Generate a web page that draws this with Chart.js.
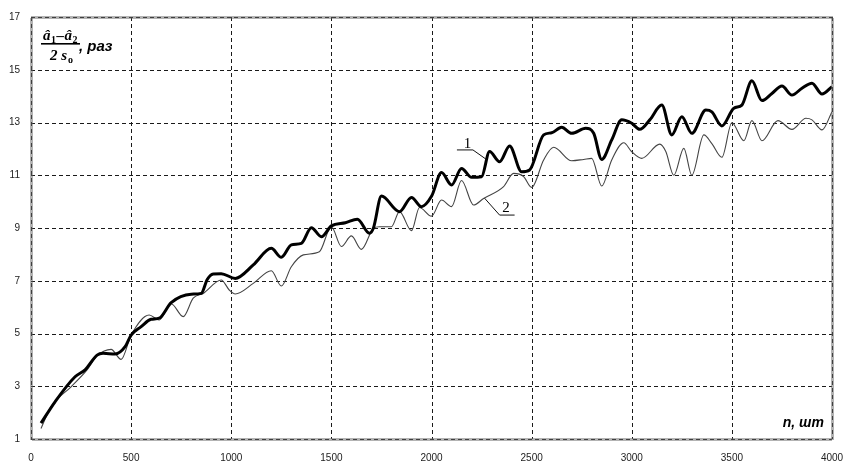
<!DOCTYPE html>
<html>
<head>
<meta charset="utf-8">
<script src="https://cdn.jsdelivr.net/npm/chart.js@4/dist/chart.umd.min.js"></script>
<style>
html, body { margin: 0; padding: 0; background: #fff; }
#wrap { width: 847px; height: 463px; }
</style>
</head>
<body>
<div id="wrap"><canvas id="chart"></canvas></div>
<script>
// curve 1 (thick)
const n1 = [50, 120, 220, 270, 330, 360, 420, 470, 500, 550,
    600, 640, 700, 800, 850, 880, 910, 950, 1020, 1110,
    1200, 1250, 1300, 1350, 1400, 1450, 1500, 1570, 1630, 1690,
    1710, 1750, 1840, 1900, 1950, 2000, 2050, 2100, 2150, 2200,
    2250, 2290, 2340, 2390, 2450, 2490, 2560, 2600, 2650, 2700,
    2770, 2810, 2850, 2900, 2950, 3000, 3040, 3090, 3150, 3200,
    3250, 3300, 3370, 3400, 3450, 3510, 3550, 3600, 3650, 3700,
    3750, 3800, 3850, 3900, 3950, 4000];
const s1 = [1.6, 2.41, 3.36, 3.62, 4.18, 4.25, 4.22, 4.5, 4.94, 5.26,
    5.54, 5.58, 6.17, 6.49, 6.52, 7.05, 7.26, 7.27, 7.09, 7.6,
    8.23, 7.89, 8.36, 8.42, 9.01, 8.67, 9.08, 9.2, 9.33, 8.8,
    9.0, 10.21, 9.62, 10.16, 9.81, 10.2, 11.1, 10.63, 11.26, 10.92,
    10.94, 11.9, 11.51, 12.11, 11.13, 11.2, 12.53, 12.61, 12.82, 12.59,
    12.78, 12.59, 11.6, 12.34, 13.1, 12.97, 12.74, 13.1, 13.66, 12.53,
    13.22, 12.59, 13.47, 13.4, 12.87, 13.54, 13.66, 14.58, 13.83, 14.1,
    14.38, 14.04, 14.3, 14.49, 14.08, 14.36];

// curve 2 (thin)
const n2 = [50, 100, 200, 280, 330, 400, 450, 500, 590, 640,
    700, 760, 810, 860, 950, 990, 1020, 1110, 1200, 1250,
    1300, 1360, 1440, 1500, 1550, 1600, 1650, 1710, 1740, 1800,
    1840, 1900, 1940, 2000, 2050, 2100, 2150, 2210, 2260, 2360,
    2410, 2460, 2500, 2560, 2610, 2700, 2760, 2800, 2850, 2900,
    2960, 3000, 3050, 3140, 3170, 3210, 3260, 3300, 3360, 3400,
    3450, 3500, 3560, 3600, 3650, 3730, 3800, 3870, 3900, 3950,
    4000];
const s2 = [1.4, 2.22, 2.98, 3.62, 4.15, 4.4, 4.02, 4.94, 5.7, 5.51,
    6.13, 5.64, 6.34, 6.52, 7.03, 6.65, 6.5, 6.9, 7.38, 6.8,
    7.53, 7.98, 8.1, 9.05, 8.3, 8.7, 8.19, 8.99, 9.05, 9.05,
    9.62, 8.9, 9.78, 9.45, 10.06, 9.81, 10.8, 9.87, 10.12, 10.57,
    11.07, 10.95, 10.54, 11.58, 12.06, 11.55, 11.6, 11.64, 10.59, 11.58,
    12.23, 11.89, 11.64, 12.18, 11.9, 11.0, 12.02, 11.0, 12.53, 12.2,
    11.68, 12.99, 12.31, 13.07, 12.31, 13.07, 12.74, 13.16, 13.1, 12.72,
    13.41];

const xTicks = [0, 500, 1000, 1500, 2000, 2500, 3000, 3500, 4000];
const yTicks = [1, 3, 5, 7, 9, 11, 13, 15, 17];

// curve labels with leader lines, in data units
const callouts = [
    { text: '1', at: [2180, 12.05], path: [[2127, 11.96], [2207, 11.96], [2274, 11.6]] },
    { text: '2', at: [2372, 9.6], path: [[2265, 10.13], [2340, 9.49], [2415, 9.49]] }
];

function toPoints(xs, ys) {
    return xs.map((x, i) => ({ x: x, y: ys[i] }));
}

// dashed grid drawn under the curves
const dashedGrid = {
    id: 'dashedGrid',
    beforeDatasetsDraw(chart) {
        const ctx = chart.ctx;
        const a = chart.chartArea;
        const xs = chart.scales.x, ys = chart.scales.y;
        ctx.save();
        ctx.strokeStyle = '#1a1a1a';
        ctx.lineWidth = 1;
        ctx.setLineDash([4, 3]);
        xTicks.forEach(v => {
            const px = Math.round(xs.getPixelForValue(v)) + 0.5;
            ctx.beginPath();
            ctx.moveTo(px, a.top);
            ctx.lineTo(px, a.bottom);
            ctx.stroke();
        });
        yTicks.forEach(v => {
            const py = Math.round(ys.getPixelForValue(v)) + 0.5;
            ctx.beginPath();
            ctx.moveTo(a.left, py);
            ctx.lineTo(a.right, py);
            ctx.stroke();
        });
        ctx.restore();
    }
};

// hatched frame, axis captions and curve labels
const decorations = {
    id: 'decorations',
    afterDatasetsDraw(chart) {
        const ctx = chart.ctx;
        const a = chart.chartArea;
        const xs = chart.scales.x, ys = chart.scales.y;
        ctx.save();

        // frame
        const l = Math.round(a.left) + 0.5, t = Math.round(a.top) + 0.5;
        const r = Math.round(a.right) + 0.5, b = Math.round(a.bottom) + 0.5;
        ctx.strokeStyle = '#666';
        ctx.lineWidth = 3;
        ctx.setLineDash([1, 1]);
        ctx.strokeRect(l, t, r - l, b - t);
        ctx.setLineDash([]);

        // leader lines + numbers
        ctx.strokeStyle = '#111';
        ctx.lineWidth = 1;
        ctx.fillStyle = '#000';
        ctx.font = '15px "Liberation Serif"';
        ctx.textAlign = 'center';
        ctx.textBaseline = 'alphabetic';
        callouts.forEach(c => {
            ctx.beginPath();
            c.path.forEach((p, i) => {
                const px = xs.getPixelForValue(p[0]), py = ys.getPixelForValue(p[1]);
                if (i === 0) ctx.moveTo(px, py); else ctx.lineTo(px, py);
            });
            ctx.stroke();
            ctx.fillText(c.text, xs.getPixelForValue(c.at[0]), ys.getPixelForValue(c.at[1]));
        });

        // y caption: (a1 - a2) / (2 s0), раз
        const L = a.left, T = a.top;
        ctx.textAlign = 'left';
        let x = L + 12;
        const nb = T + 23;
        const big = 'italic bold 15px "Liberation Serif"';
        const sub = 'bold 10px "Liberation Serif"';
        const parts = [['â', big, 0], ['1', sub, 3], ['–', big, 0], ['â', big, 0], ['2', sub, 3]];
        parts.forEach(p => {
            ctx.font = p[1];
            ctx.fillText(p[0], x, nb + p[2]);
            x += ctx.measureText(p[0]).width + 0.5;
        });
        ctx.fillRect(L + 10, T + 26, x - L - 8, 1.6);
        ctx.font = big;
        ctx.fillText('2 s', L + 19, T + 43);
        const w = ctx.measureText('2 s').width;
        ctx.font = sub;
        ctx.fillText('o', L + 19 + w + 1, T + 46);
        ctx.font = 'italic bold 15px "Liberation Sans"';
        ctx.fillText(', раз', x + 1, T + 34);

        // x caption
        ctx.textAlign = 'right';
        ctx.font = 'italic bold 14px "Liberation Sans"';
        ctx.fillText('n, шт', a.right - 8, a.bottom - 12);

        ctx.restore();
    }
};

document.addEventListener('DOMContentLoaded', function() {
    new Chart(document.getElementById('chart'), {
        type: 'line',
        data: {
            datasets: [{
                label: '1',
                data: toPoints(n1, s1),
                borderColor: '#000',
                borderWidth: 3,
                pointRadius: 0,
                cubicInterpolationMode: 'monotone',
                order: 1
            }, {
                label: '2',
                data: toPoints(n2, s2),
                borderColor: '#444',
                borderWidth: 1.1,
                pointRadius: 0,
                cubicInterpolationMode: 'monotone',
                order: 2
            }]
        },
        options: {
            responsive: true,
            maintainAspectRatio: false,
            animation: false,
            layout: { padding: { top: 17, right: 15, left: 0, bottom: 0 } },
            plugins: {
                legend: { display: false },
                tooltip: { enabled: false }
            },
            scales: {
                x: {
                    type: 'linear',
                    min: 0,
                    max: 4000,
                    afterBuildTicks: s => { s.ticks = xTicks.map(v => ({ value: v })); },
                    afterFit: s => { s.height = 24; s.paddingLeft = 0; s.paddingRight = 0; },
                    grid: { display: false, drawTicks: false },
                    border: { display: false },
                    ticks: {
                        color: '#222', padding: 13, maxRotation: 0,
                        font: { family: 'Liberation Sans', size: 10 },
                        callback: v => String(v)
                    }
                },
                y: {
                    type: 'linear',
                    min: 1,
                    max: 17,
                    afterBuildTicks: s => { s.ticks = yTicks.map(v => ({ value: v })); },
                    afterFit: s => { s.width = 31; s.paddingTop = 0; s.paddingBottom = 0; },
                    grid: { display: false, drawTicks: false },
                    border: { display: false },
                    ticks: {
                        color: '#222', padding: 11,
                        font: { family: 'Liberation Sans', size: 10 },
                        callback: v => String(v)
                    }
                }
            }
        },
        plugins: [dashedGrid, decorations]
    });
});
</script>
</body>
</html>
